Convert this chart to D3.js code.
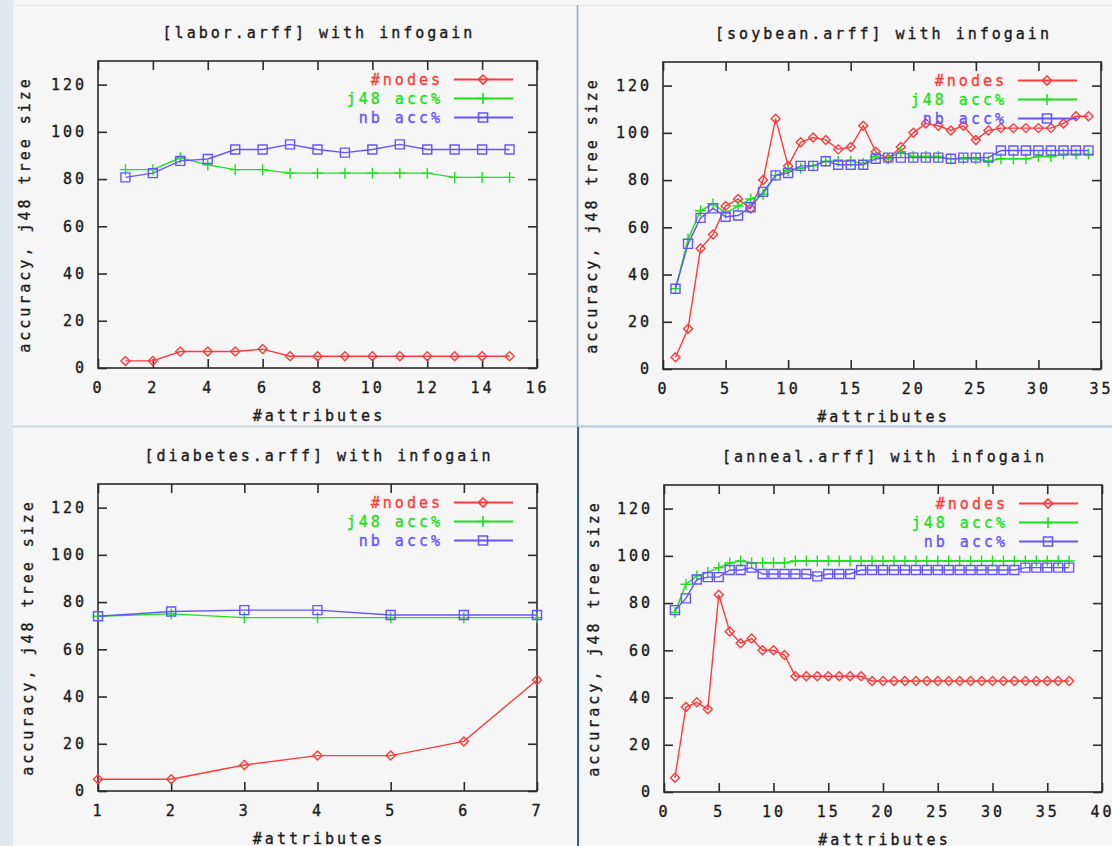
<!DOCTYPE html>
<html>
<head>
<meta charset="utf-8">
<script src="https://cdn.jsdelivr.net/npm/d3@7"></script>
<style>
    body { margin: 0; background: #f6f6f6; }
    svg { display: block; }
    text { font-family: "DejaVu Sans Mono", monospace; font-size: 15px; letter-spacing: 3px; stroke-width: 0.35px; }
</style>
</head>
<body>
<svg id="chart" width="1112" height="846"></svg>
<script>
// series names + colours (gnuplot default line types)
var seriesNames = ["#nodes", "j48 acc%", "nb acc%"];
var seriesColors = ["#ff3b3b", "#1ee01e", "#6655ff"];
var seriesMarks = ["diamond", "plus", "square"];
var markerSize = {"diamond": 4.5, "plus": 5.5, "square": 4.5};

var yTicks = [0, 20, 40, 60, 80, 100, 120];

// [labor.arff]
var laborAttrs = [1, 2, 3, 4, 5, 6, 7, 8, 9, 10, 11, 12, 13, 14, 15];
var laborNodes = [3, 3, 7, 7, 7, 8, 5, 5, 5, 5, 5, 5, 5, 5, 5];
var laborJ48 = [84, 84, 89, 86, 84, 84, 82.5, 82.5, 82.5, 82.5, 82.5, 82.5, 80.7, 80.7, 80.7];
var laborNb = [80.7, 82.5, 87.7, 88.5, 92.5, 92.5, 94.7, 92.5, 91.2, 92.5, 94.7, 92.5, 92.5, 92.5, 92.5];
var laborXTicks = [0, 2, 4, 6, 8, 10, 12, 14, 16];

// [soybean.arff]
var soyAttrs = [1, 2, 3, 4, 5, 6, 7, 8, 9, 10, 11, 12, 13, 14, 15, 16, 17,
    18, 19, 20, 21, 22, 23, 24, 25, 26, 27, 28, 29, 30, 31, 32, 33, 34];
var soyNodes = [5, 17, 51, 57, 69, 72, 68, 80, 106, 86, 96, 98, 97, 93, 94, 103, 92,
    89, 94, 100, 104, 103, 101, 103, 97, 101, 102, 102, 102, 102, 102, 104, 107, 107];
var soyJ48 = [34, 55, 67, 70, 66, 69, 72, 74, 82, 84, 85, 86, 88, 88, 88, 87, 90,
    89, 92, 90, 90, 90, 89, 89, 89, 88, 89, 89, 89, 90, 90, 91, 91, 91];
var soyNb = [34, 53, 64, 68, 64.5, 65, 68.5, 75, 82, 83, 86, 86, 88, 86.5, 86.5, 86.5, 89,
    89.5, 89.5, 89.5, 89.5, 89.5, 89, 89.5, 89.5, 89.5, 92.5, 92.5, 92.5, 92.5, 92.5, 92.5, 92.5, 92.5];
var soyXTicks = [0, 5, 10, 15, 20, 25, 30, 35];

// [diabetes.arff]
var diaAttrs = [1, 2, 3, 4, 5, 6, 7];
var diaNodes = [5, 5, 11, 15, 15, 21, 47];
var diaJ48 = [74, 75, 73.4, 73.4, 73.4, 73.4, 73.4];
var diaNb = [74, 76, 76.6, 76.6, 74.5, 74.5, 74.5];
var diaXTicks = [1, 2, 3, 4, 5, 6, 7];

// [anneal.arff]
var annAttrs = [1, 2, 3, 4, 5, 6, 7, 8, 9, 10, 11, 12, 13, 14, 15, 16, 17, 18, 19,
    20, 21, 22, 23, 24, 25, 26, 27, 28, 29, 30, 31, 32, 33, 34, 35, 36, 37];
var annNodes = [6, 36, 38, 35, 83.5, 68, 63, 65, 60, 60, 58, 49, 49, 49, 49, 49, 49, 49, 47,
    47, 47, 47, 47, 47, 47, 47, 47, 47, 47, 47, 47, 47, 47, 47, 47, 47, 47];
var annJ48 = [76, 88, 91.5, 93, 95, 97, 97.8, 97.1, 97.1, 97.1, 97.1, 97.8, 97.8, 97.8, 97.8, 97.8, 97.8, 97.8, 97.8,
    97.8, 97.8, 97.8, 97.8, 97.8, 97.8, 97.8, 97.8, 97.8, 97.8, 97.8, 97.8, 97.8, 97.8, 97.8, 97.8, 97.8, 97.8];
var annNb = [77, 82, 90, 91, 91, 94, 94, 95, 92.3, 92.3, 92.3, 92.3, 92.3, 91.3, 92.3, 92.3, 92.3, 94, 94,
    94, 94, 94, 94, 94, 94, 94, 94, 94, 94, 94, 94, 94, 95, 95, 95, 95, 95];
var annXTicks = [0, 5, 10, 15, 20, 25, 30, 35, 40];

var svg = d3.select("#chart");

// window decoration: left strip + separators
svg.append("rect").attr("x", 0).attr("y", 0).attr("width", 13).attr("height", 846).attr("fill", "#e2e8f0");
svg.append("line").attr("x1", 13).attr("x2", 1112).attr("y1", 5.5).attr("y2", 5.5).attr("stroke", "#e0e6ea");
svg.append("line").attr("x1", 13).attr("x2", 577).attr("y1", 426.5).attr("y2", 426.5).attr("stroke", "#cfd9de").attr("stroke-width", 2);
svg.append("line").attr("x1", 577).attr("x2", 1112).attr("y1", 426.5).attr("y2", 426.5).attr("stroke", "#b3c6e2").attr("stroke-width", 2);
svg.append("line").attr("x1", 577.5).attr("x2", 577.5).attr("y1", 5).attr("y2", 426).attr("stroke", "#86aad0").attr("stroke-width", 1.5);
svg.append("line").attr("x1", 578).attr("x2", 578).attr("y1", 427).attr("y2", 846).attr("stroke", "#2d5fae").attr("stroke-width", 2);

function markerPath(type, s) {
    if (type == "diamond") return "M0," + (-s) + "L" + s + ",0L0," + s + "L" + (-s) + ",0Z";
    if (type == "plus") return "M" + (-s) + ",0H" + s + "M0," + (-s) + "V" + s;
    return "M" + (-s) + "," + (-s) + "H" + s + "V" + s + "H" + (-s) + "Z";
}

function styleAxis(sel) {
    sel.select(".domain").remove();
    sel.selectAll(".tick line").attr("stroke", "#2b2b2b").attr("stroke-width", 1.6);
    sel.selectAll(".tick text")
        .attr("fill", "#1a1a1a")
        .attr("stroke", "#1a1a1a")
        .style("font-family", "\"DejaVu Sans Mono\", monospace")
        .style("font-size", "15px");
}

function drawPanel(cfg) {
    var left = cfg.box[0], top = cfg.box[1], right = cfg.box[2], bottom = cfg.box[3];
    var cx = (left + right) / 2;

    var x = d3.scaleLinear().domain(cfg.xDomain).range([left, right]);
    var y = d3.scaleLinear().domain([0, 130]).range([bottom, top]);

    var g = svg.append("g");

    g.append("text")
        .attr("x", cx + 1.5)
        .attr("y", top - 23)
        .attr("text-anchor", "middle")
        .attr("fill", "#1a1a1a")
        .attr("stroke", "#1a1a1a")
        .text(cfg.title);

    // axes: ticks inward, mirrored on top/right
    g.append("g")
        .attr("transform", "translate(0," + bottom + ")")
        .call(d3.axisBottom(x).tickValues(cfg.xTicks).tickFormat(d3.format("d")).tickSize(-9).tickPadding(14))
        .call(styleAxis);
    g.append("g")
        .attr("transform", "translate(0," + top + ")")
        .call(d3.axisTop(x).tickValues(cfg.xTicks).tickSize(-9).tickFormat(""))
        .call(styleAxis);
    g.append("g")
        .attr("transform", "translate(" + left + ",0)")
        .call(d3.axisLeft(y).tickValues(yTicks).tickSize(-9).tickPadding(11))
        .call(styleAxis);
    g.append("g")
        .attr("transform", "translate(" + right + ",0)")
        .call(d3.axisRight(y).tickValues(yTicks).tickSize(-9).tickFormat(""))
        .call(styleAxis);

    g.append("rect")
        .attr("x", left).attr("y", top)
        .attr("width", right - left).attr("height", bottom - top)
        .attr("fill", "none")
        .attr("stroke", "#2b2b2b")
        .attr("stroke-width", 1.6);

    g.append("text")
        .attr("x", cx + 1.5)
        .attr("y", bottom + 53)
        .attr("text-anchor", "middle")
        .attr("fill", "#1a1a1a")
        .attr("stroke", "#1a1a1a")
        .text("#attributes");

    g.append("text")
        .attr("transform", "translate(" + cfg.ylabelX + "," + ((top + bottom) / 2) + ") rotate(-90)")
        .attr("text-anchor", "middle")
        .attr("dy", "0.35em")
        .attr("fill", "#1a1a1a")
        .attr("stroke", "#1a1a1a")
        .text("accuracy, j48 tree size");

    var line = d3.line()
        .x(function (d) { return x(d[0]); })
        .y(function (d) { return y(d[1]); });

    cfg.series.forEach(function (vals, i) {
        var pts = vals.map(function (v, j) { return [cfg.x[j], v]; });
        var sg = g.append("g");
        sg.append("path")
            .datum(pts)
            .attr("d", line)
            .attr("fill", "none")
            .attr("stroke", seriesColors[i])
            .attr("stroke-width", 1.4);
        sg.selectAll("path.mark")
            .data(pts)
            .enter()
            .append("path")
            .attr("class", "mark")
            .attr("transform", function (d) { return "translate(" + x(d[0]) + "," + y(d[1]) + ")"; })
            .attr("d", markerPath(seriesMarks[i], markerSize[seriesMarks[i]]))
            .attr("fill", "none")
            .attr("stroke", seriesColors[i])
            .attr("stroke-width", 1.4);

        // legend row
        var ly = top + 18.5 + i * 19;
        g.append("text")
            .attr("x", right - 94)
            .attr("y", ly)
            .attr("dy", "0.35em")
            .attr("text-anchor", "end")
            .attr("fill", seriesColors[i])
            .attr("stroke", seriesColors[i])
            .text(seriesNames[i]);
        g.append("line")
            .attr("x1", right - 83).attr("x2", right - 24)
            .attr("y1", ly).attr("y2", ly)
            .attr("stroke", seriesColors[i])
            .attr("stroke-width", 2);
        g.append("path")
            .attr("transform", "translate(" + (right - 54) + "," + ly + ")")
            .attr("d", markerPath(seriesMarks[i], markerSize[seriesMarks[i]]))
            .attr("fill", "none")
            .attr("stroke", seriesColors[i])
            .attr("stroke-width", 1.6);
    });
}

drawPanel({
    title: "[labor.arff] with infogain",
    box: [98, 61, 537, 368], xDomain: [0, 16], xTicks: laborXTicks, ylabelX: 25,
    x: laborAttrs, series: [laborNodes, laborJ48, laborNb]
});
drawPanel({
    title: "[soybean.arff] with infogain",
    box: [663, 62, 1101, 369], xDomain: [0, 35], xTicks: soyXTicks, ylabelX: 592,
    x: soyAttrs, series: [soyNodes, soyJ48, soyNb]
});
drawPanel({
    title: "[diabetes.arff] with infogain",
    box: [98, 484, 537, 791], xDomain: [1, 7], xTicks: diaXTicks, ylabelX: 28,
    x: diaAttrs, series: [diaNodes, diaJ48, diaNb]
});
drawPanel({
    title: "[anneal.arff] with infogain",
    box: [664, 485, 1102, 792], xDomain: [0, 40], xTicks: annXTicks, ylabelX: 594,
    x: annAttrs, series: [annNodes, annJ48, annNb]
});
</script>
</body>
</html>
